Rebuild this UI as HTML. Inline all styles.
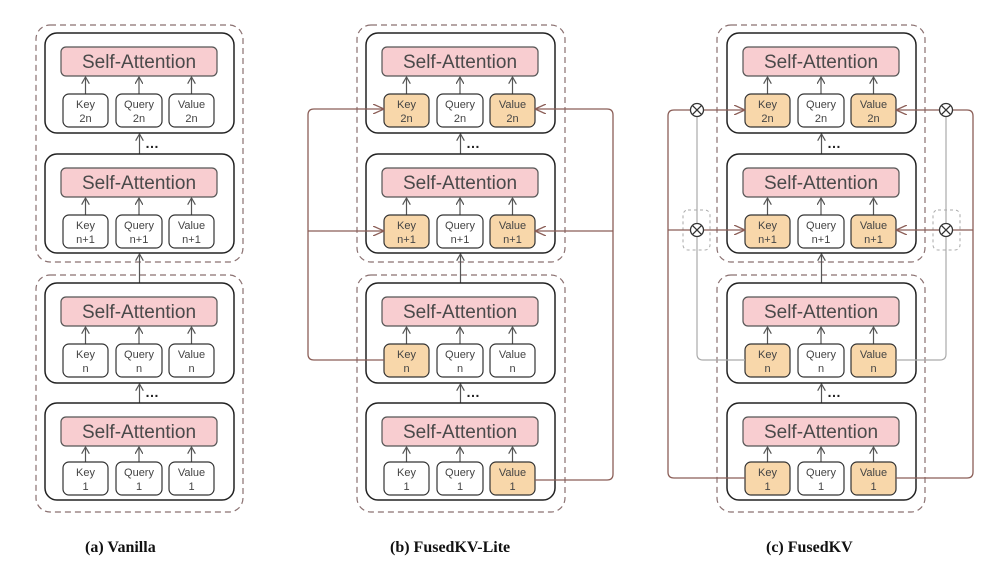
<!DOCTYPE html>
<html><head><meta charset="utf-8"><style>
html,body{margin:0;padding:0;background:#fff;}
svg{display:block;}
.blk{fill:#fff;stroke:#222;stroke-width:1.5;}
.sa{fill:#f8cdd0;stroke:#555;stroke-width:1.2;}
.satx{font-family:"Liberation Sans",sans-serif;font-size:19px;fill:#4a4a4a;text-anchor:middle;}
.kw{fill:#fff;stroke:#333;stroke-width:1.2;}
.ko{fill:#f8d7aa;stroke:#333;stroke-width:1.2;}
.kt{font-family:"Liberation Sans",sans-serif;font-size:11px;fill:#444;text-anchor:middle;}
.ar{stroke:#555;stroke-width:1.2;fill:none;}
.dash{fill:none;stroke:#8a7070;stroke-width:1.2;stroke-dasharray:6,4;}
.br{stroke:#8b5e57;stroke-width:1.3;fill:none;}
.gr{stroke:#aaa;stroke-width:1.2;fill:none;}
.cap{font-family:"Liberation Serif",serif;font-weight:bold;font-size:16px;fill:#111;}
</style></head><body>
<svg width="997" height="561" viewBox="0 0 997 561" xmlns="http://www.w3.org/2000/svg">
<defs>
<marker id="a" markerWidth="8" markerHeight="8" refX="7" refY="4" orient="auto" markerUnits="userSpaceOnUse"><path d="M0,0 L7,4 L0,8" fill="none" stroke="#555" stroke-width="1.2"/></marker>
<marker id="b" markerWidth="12" markerHeight="10" refX="11" refY="5" orient="auto" markerUnits="userSpaceOnUse"><path d="M0,0 L11,5 L0,10" fill="none" stroke="#8b5e57" stroke-width="1.3"/></marker>
</defs>

<rect class="dash" x="36" y="25" width="207" height="237" rx="14"/>
<rect class="dash" x="36" y="275" width="207" height="237" rx="14"/>
<rect class="dash" x="357" y="25" width="208" height="237" rx="14"/>
<rect class="dash" x="357" y="275" width="208" height="237" rx="14"/>
<rect class="dash" x="717" y="25" width="208" height="237" rx="14"/>
<rect class="dash" x="717" y="275" width="208" height="237" rx="14"/>

<g class="ar">
<line x1="139.5" y1="154" x2="139.5" y2="134" marker-end="url(#a)"/>
<line x1="139.5" y1="283" x2="139.5" y2="254" marker-end="url(#a)"/>
<line x1="139.5" y1="403" x2="139.5" y2="384" marker-end="url(#a)"/>
<line x1="460.5" y1="154" x2="460.5" y2="134" marker-end="url(#a)"/>
<line x1="460.5" y1="283" x2="460.5" y2="254" marker-end="url(#a)"/>
<line x1="460.5" y1="403" x2="460.5" y2="384" marker-end="url(#a)"/>
<line x1="821.5" y1="154" x2="821.5" y2="134" marker-end="url(#a)"/>
<line x1="821.5" y1="283" x2="821.5" y2="254" marker-end="url(#a)"/>
<line x1="821.5" y1="403" x2="821.5" y2="384" marker-end="url(#a)"/>
</g>
<g font-family="Liberation Sans,sans-serif" font-size="14" font-weight="bold" fill="#222">
<text x="145" y="148">…</text><text x="145" y="397">…</text>
<text x="466" y="148">…</text><text x="466" y="397">…</text>
<text x="827" y="148">…</text><text x="827" y="397">…</text>
</g>

<!-- panel a -->
<g transform="translate(45,33)">
<rect class="blk" x="0" y="0" width="189" height="100" rx="12"/><rect class="sa" x="16" y="14" width="156" height="29" rx="5"/><text class="satx" x="94" y="35">Self-Attention</text>
<g class="ar"><line x1="40.5" y1="61" x2="40.5" y2="44" marker-end="url(#a)"/><line x1="94" y1="61" x2="94" y2="44" marker-end="url(#a)"/><line x1="146.5" y1="61" x2="146.5" y2="44" marker-end="url(#a)"/></g>
<rect class="kw" x="18" y="61" width="45" height="33" rx="6"/><rect class="kw" x="71" y="61" width="46" height="33" rx="6"/><rect class="kw" x="124" y="61" width="45" height="33" rx="6"/>
<text class="kt" x="40.5" y="75">Key</text><text class="kt" x="40.5" y="89">2n</text><text class="kt" x="94" y="75">Query</text><text class="kt" x="94" y="89">2n</text><text class="kt" x="146.5" y="75">Value</text><text class="kt" x="146.5" y="89">2n</text>
</g>
<g transform="translate(45,154)">
<rect class="blk" x="0" y="0" width="189" height="99" rx="12"/><rect class="sa" x="16" y="14" width="156" height="29" rx="5"/><text class="satx" x="94" y="35">Self-Attention</text>
<g class="ar"><line x1="40.5" y1="61" x2="40.5" y2="44" marker-end="url(#a)"/><line x1="94" y1="61" x2="94" y2="44" marker-end="url(#a)"/><line x1="146.5" y1="61" x2="146.5" y2="44" marker-end="url(#a)"/></g>
<rect class="kw" x="18" y="61" width="45" height="33" rx="6"/><rect class="kw" x="71" y="61" width="46" height="33" rx="6"/><rect class="kw" x="124" y="61" width="45" height="33" rx="6"/>
<text class="kt" x="40.5" y="75">Key</text><text class="kt" x="40.5" y="89">n+1</text><text class="kt" x="94" y="75">Query</text><text class="kt" x="94" y="89">n+1</text><text class="kt" x="146.5" y="75">Value</text><text class="kt" x="146.5" y="89">n+1</text>
</g>
<g transform="translate(45,283)">
<rect class="blk" x="0" y="0" width="189" height="100" rx="12"/><rect class="sa" x="16" y="14" width="156" height="29" rx="5"/><text class="satx" x="94" y="35">Self-Attention</text>
<g class="ar"><line x1="40.5" y1="61" x2="40.5" y2="44" marker-end="url(#a)"/><line x1="94" y1="61" x2="94" y2="44" marker-end="url(#a)"/><line x1="146.5" y1="61" x2="146.5" y2="44" marker-end="url(#a)"/></g>
<rect class="kw" x="18" y="61" width="45" height="33" rx="6"/><rect class="kw" x="71" y="61" width="46" height="33" rx="6"/><rect class="kw" x="124" y="61" width="45" height="33" rx="6"/>
<text class="kt" x="40.5" y="75">Key</text><text class="kt" x="40.5" y="89">n</text><text class="kt" x="94" y="75">Query</text><text class="kt" x="94" y="89">n</text><text class="kt" x="146.5" y="75">Value</text><text class="kt" x="146.5" y="89">n</text>
</g>
<g transform="translate(45,403)">
<rect class="blk" x="0" y="0" width="189" height="97" rx="12"/><rect class="sa" x="16" y="14" width="156" height="29" rx="5"/><text class="satx" x="94" y="35">Self-Attention</text>
<g class="ar"><line x1="40.5" y1="59" x2="40.5" y2="44" marker-end="url(#a)"/><line x1="94" y1="59" x2="94" y2="44" marker-end="url(#a)"/><line x1="146.5" y1="59" x2="146.5" y2="44" marker-end="url(#a)"/></g>
<rect class="kw" x="18" y="59" width="45" height="33" rx="6"/><rect class="kw" x="71" y="59" width="46" height="33" rx="6"/><rect class="kw" x="124" y="59" width="45" height="33" rx="6"/>
<text class="kt" x="40.5" y="73">Key</text><text class="kt" x="40.5" y="87">1</text><text class="kt" x="94" y="73">Query</text><text class="kt" x="94" y="87">1</text><text class="kt" x="146.5" y="73">Value</text><text class="kt" x="146.5" y="87">1</text>
</g>

<!-- panel b -->
<g transform="translate(366,33)">
<rect class="blk" x="0" y="0" width="189" height="100" rx="12"/><rect class="sa" x="16" y="14" width="156" height="29" rx="5"/><text class="satx" x="94" y="35">Self-Attention</text>
<g class="ar"><line x1="40.5" y1="61" x2="40.5" y2="44" marker-end="url(#a)"/><line x1="94" y1="61" x2="94" y2="44" marker-end="url(#a)"/><line x1="146.5" y1="61" x2="146.5" y2="44" marker-end="url(#a)"/></g>
<rect class="ko" x="18" y="61" width="45" height="33" rx="6"/><rect class="kw" x="71" y="61" width="46" height="33" rx="6"/><rect class="ko" x="124" y="61" width="45" height="33" rx="6"/>
<text class="kt" x="40.5" y="75">Key</text><text class="kt" x="40.5" y="89">2n</text><text class="kt" x="94" y="75">Query</text><text class="kt" x="94" y="89">2n</text><text class="kt" x="146.5" y="75">Value</text><text class="kt" x="146.5" y="89">2n</text>
</g>
<g transform="translate(366,154)">
<rect class="blk" x="0" y="0" width="189" height="99" rx="12"/><rect class="sa" x="16" y="14" width="156" height="29" rx="5"/><text class="satx" x="94" y="35">Self-Attention</text>
<g class="ar"><line x1="40.5" y1="61" x2="40.5" y2="44" marker-end="url(#a)"/><line x1="94" y1="61" x2="94" y2="44" marker-end="url(#a)"/><line x1="146.5" y1="61" x2="146.5" y2="44" marker-end="url(#a)"/></g>
<rect class="ko" x="18" y="61" width="45" height="33" rx="6"/><rect class="kw" x="71" y="61" width="46" height="33" rx="6"/><rect class="ko" x="124" y="61" width="45" height="33" rx="6"/>
<text class="kt" x="40.5" y="75">Key</text><text class="kt" x="40.5" y="89">n+1</text><text class="kt" x="94" y="75">Query</text><text class="kt" x="94" y="89">n+1</text><text class="kt" x="146.5" y="75">Value</text><text class="kt" x="146.5" y="89">n+1</text>
</g>
<g transform="translate(366,283)">
<rect class="blk" x="0" y="0" width="189" height="100" rx="12"/><rect class="sa" x="16" y="14" width="156" height="29" rx="5"/><text class="satx" x="94" y="35">Self-Attention</text>
<g class="ar"><line x1="40.5" y1="61" x2="40.5" y2="44" marker-end="url(#a)"/><line x1="94" y1="61" x2="94" y2="44" marker-end="url(#a)"/><line x1="146.5" y1="61" x2="146.5" y2="44" marker-end="url(#a)"/></g>
<rect class="ko" x="18" y="61" width="45" height="33" rx="6"/><rect class="kw" x="71" y="61" width="46" height="33" rx="6"/><rect class="kw" x="124" y="61" width="45" height="33" rx="6"/>
<text class="kt" x="40.5" y="75">Key</text><text class="kt" x="40.5" y="89">n</text><text class="kt" x="94" y="75">Query</text><text class="kt" x="94" y="89">n</text><text class="kt" x="146.5" y="75">Value</text><text class="kt" x="146.5" y="89">n</text>
</g>
<g transform="translate(366,403)">
<rect class="blk" x="0" y="0" width="189" height="97" rx="12"/><rect class="sa" x="16" y="14" width="156" height="29" rx="5"/><text class="satx" x="94" y="35">Self-Attention</text>
<g class="ar"><line x1="40.5" y1="59" x2="40.5" y2="44" marker-end="url(#a)"/><line x1="94" y1="59" x2="94" y2="44" marker-end="url(#a)"/><line x1="146.5" y1="59" x2="146.5" y2="44" marker-end="url(#a)"/></g>
<rect class="kw" x="18" y="59" width="45" height="33" rx="6"/><rect class="kw" x="71" y="59" width="46" height="33" rx="6"/><rect class="ko" x="124" y="59" width="45" height="33" rx="6"/>
<text class="kt" x="40.5" y="73">Key</text><text class="kt" x="40.5" y="87">1</text><text class="kt" x="94" y="73">Query</text><text class="kt" x="94" y="87">1</text><text class="kt" x="146.5" y="73">Value</text><text class="kt" x="146.5" y="87">1</text>
</g>

<!-- panel c -->
<g transform="translate(727,33)">
<rect class="blk" x="0" y="0" width="189" height="100" rx="12"/><rect class="sa" x="16" y="14" width="156" height="29" rx="5"/><text class="satx" x="94" y="35">Self-Attention</text>
<g class="ar"><line x1="40.5" y1="61" x2="40.5" y2="44" marker-end="url(#a)"/><line x1="94" y1="61" x2="94" y2="44" marker-end="url(#a)"/><line x1="146.5" y1="61" x2="146.5" y2="44" marker-end="url(#a)"/></g>
<rect class="ko" x="18" y="61" width="45" height="33" rx="6"/><rect class="kw" x="71" y="61" width="46" height="33" rx="6"/><rect class="ko" x="124" y="61" width="45" height="33" rx="6"/>
<text class="kt" x="40.5" y="75">Key</text><text class="kt" x="40.5" y="89">2n</text><text class="kt" x="94" y="75">Query</text><text class="kt" x="94" y="89">2n</text><text class="kt" x="146.5" y="75">Value</text><text class="kt" x="146.5" y="89">2n</text>
</g>
<g transform="translate(727,154)">
<rect class="blk" x="0" y="0" width="189" height="99" rx="12"/><rect class="sa" x="16" y="14" width="156" height="29" rx="5"/><text class="satx" x="94" y="35">Self-Attention</text>
<g class="ar"><line x1="40.5" y1="61" x2="40.5" y2="44" marker-end="url(#a)"/><line x1="94" y1="61" x2="94" y2="44" marker-end="url(#a)"/><line x1="146.5" y1="61" x2="146.5" y2="44" marker-end="url(#a)"/></g>
<rect class="ko" x="18" y="61" width="45" height="33" rx="6"/><rect class="kw" x="71" y="61" width="46" height="33" rx="6"/><rect class="ko" x="124" y="61" width="45" height="33" rx="6"/>
<text class="kt" x="40.5" y="75">Key</text><text class="kt" x="40.5" y="89">n+1</text><text class="kt" x="94" y="75">Query</text><text class="kt" x="94" y="89">n+1</text><text class="kt" x="146.5" y="75">Value</text><text class="kt" x="146.5" y="89">n+1</text>
</g>
<g transform="translate(727,283)">
<rect class="blk" x="0" y="0" width="189" height="100" rx="12"/><rect class="sa" x="16" y="14" width="156" height="29" rx="5"/><text class="satx" x="94" y="35">Self-Attention</text>
<g class="ar"><line x1="40.5" y1="61" x2="40.5" y2="44" marker-end="url(#a)"/><line x1="94" y1="61" x2="94" y2="44" marker-end="url(#a)"/><line x1="146.5" y1="61" x2="146.5" y2="44" marker-end="url(#a)"/></g>
<rect class="ko" x="18" y="61" width="45" height="33" rx="6"/><rect class="kw" x="71" y="61" width="46" height="33" rx="6"/><rect class="ko" x="124" y="61" width="45" height="33" rx="6"/>
<text class="kt" x="40.5" y="75">Key</text><text class="kt" x="40.5" y="89">n</text><text class="kt" x="94" y="75">Query</text><text class="kt" x="94" y="89">n</text><text class="kt" x="146.5" y="75">Value</text><text class="kt" x="146.5" y="89">n</text>
</g>
<g transform="translate(727,403)">
<rect class="blk" x="0" y="0" width="189" height="97" rx="12"/><rect class="sa" x="16" y="14" width="156" height="29" rx="5"/><text class="satx" x="94" y="35">Self-Attention</text>
<g class="ar"><line x1="40.5" y1="59" x2="40.5" y2="44" marker-end="url(#a)"/><line x1="94" y1="59" x2="94" y2="44" marker-end="url(#a)"/><line x1="146.5" y1="59" x2="146.5" y2="44" marker-end="url(#a)"/></g>
<rect class="ko" x="18" y="59" width="45" height="33" rx="6"/><rect class="kw" x="71" y="59" width="46" height="33" rx="6"/><rect class="ko" x="124" y="59" width="45" height="33" rx="6"/>
<text class="kt" x="40.5" y="73">Key</text><text class="kt" x="40.5" y="87">1</text><text class="kt" x="94" y="73">Query</text><text class="kt" x="94" y="87">1</text><text class="kt" x="146.5" y="73">Value</text><text class="kt" x="146.5" y="87">1</text>
</g>

<!-- connectors panel b (drawn on top) -->
<path class="br" d="M384,360 H314 Q308,360 308,354 V115 Q308,109 314,109 H384" marker-end="url(#b)"/>
<path class="br" d="M308,231 H384" marker-end="url(#b)"/>
<path class="br" d="M535,480 H607 Q613,480 613,474 V115 Q613,109 607,109 H535" marker-end="url(#b)"/>
<path class="br" d="M613,231 H535" marker-end="url(#b)"/>

<!-- connectors panel c -->
<path class="gr" d="M745,360 H703 Q697,360 697,354 V237"/>
<path class="gr" d="M697,223 V117"/>
<path class="gr" d="M896,360 H940 Q946,360 946,354 V237"/>
<path class="gr" d="M946,223 V117"/>
<rect x="683" y="210" width="27" height="40" rx="5" fill="none" stroke="#aaa" stroke-dasharray="3,3"/>
<rect x="933" y="210" width="27" height="40" rx="5" fill="none" stroke="#aaa" stroke-dasharray="3,3"/>
<path class="br" d="M745,478 H674 Q668,478 668,472 V116 Q668,110 674,110 H690"/>
<path class="br" d="M668,230 H690"/>
<path class="br" d="M703,110 H745" marker-end="url(#b)"/>
<path class="br" d="M703,230 H745" marker-end="url(#b)"/>
<path class="br" d="M896,478 H967 Q973,478 973,472 V116 Q973,110 967,110 H953"/>
<path class="br" d="M973,230 H953"/>
<path class="br" d="M939,110 H896" marker-end="url(#b)"/>
<path class="br" d="M939,230 H896" marker-end="url(#b)"/>
<g fill="#fff" stroke="#333" stroke-width="1.3">
<circle cx="697" cy="110" r="6.5"/><path d="M692.4,105.4 L701.6,114.6 M701.6,105.4 L692.4,114.6"/>
<circle cx="697" cy="230" r="6.5"/><path d="M692.4,225.4 L701.6,234.6 M701.6,225.4 L692.4,234.6"/>
<circle cx="946" cy="110" r="6.5"/><path d="M941.4,105.4 L950.6,114.6 M950.6,105.4 L941.4,114.6"/>
<circle cx="946" cy="230" r="6.5"/><path d="M941.4,225.4 L950.6,234.6 M950.6,225.4 L941.4,234.6"/>
</g>

<text class="cap" x="85" y="552">(a) Vanilla</text>
<text class="cap" x="390" y="552">(b) FusedKV-Lite</text>
<text class="cap" x="766" y="552">(c) FusedKV</text>
</svg>
</body></html>
